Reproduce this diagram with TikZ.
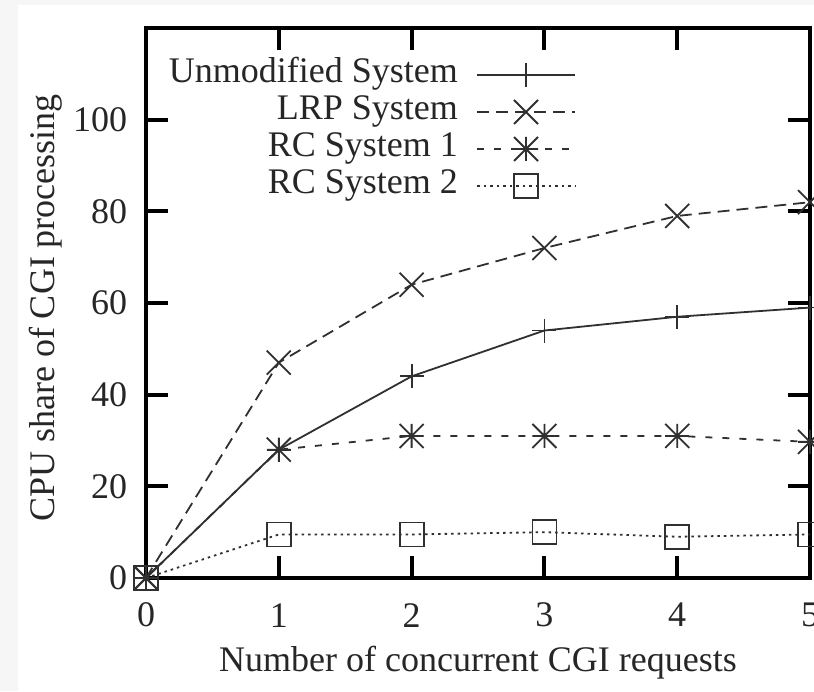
\documentclass[tikz,border=0pt]{standalone}
\usepackage{fontspec}
\setmainfont{Liberation Serif}
\usetikzlibrary{plotmarks}

% gnuplot-style point types
\pgfdeclareplotmark{gpplus}{%
  \pgfpathmoveto{\pgfqpoint{0pt}{\pgfplotmarksize}}%
  \pgfpathlineto{\pgfqpoint{0pt}{-\pgfplotmarksize}}%
  \pgfpathmoveto{\pgfqpoint{\pgfplotmarksize}{0pt}}%
  \pgfpathlineto{\pgfqpoint{-\pgfplotmarksize}{0pt}}%
  \pgfusepathqstroke}
\pgfdeclareplotmark{gpcross}{%
  \pgfpathmoveto{\pgfqpoint{\pgfplotmarksize}{\pgfplotmarksize}}%
  \pgfpathlineto{\pgfqpoint{-\pgfplotmarksize}{-\pgfplotmarksize}}%
  \pgfpathmoveto{\pgfqpoint{-\pgfplotmarksize}{\pgfplotmarksize}}%
  \pgfpathlineto{\pgfqpoint{\pgfplotmarksize}{-\pgfplotmarksize}}%
  \pgfusepathqstroke}
\pgfdeclareplotmark{gpstar}{%
  \pgfpathmoveto{\pgfqpoint{0pt}{\pgfplotmarksize}}%
  \pgfpathlineto{\pgfqpoint{0pt}{-\pgfplotmarksize}}%
  \pgfpathmoveto{\pgfqpoint{\pgfplotmarksize}{0pt}}%
  \pgfpathlineto{\pgfqpoint{-\pgfplotmarksize}{0pt}}%
  \pgfpathmoveto{\pgfqpoint{\pgfplotmarksize}{\pgfplotmarksize}}%
  \pgfpathlineto{\pgfqpoint{-\pgfplotmarksize}{-\pgfplotmarksize}}%
  \pgfpathmoveto{\pgfqpoint{-\pgfplotmarksize}{\pgfplotmarksize}}%
  \pgfpathlineto{\pgfqpoint{\pgfplotmarksize}{-\pgfplotmarksize}}%
  \pgfusepathqstroke}
\pgfdeclareplotmark{gpbox}{%
  \pgfpathrectangle{\pgfqpoint{-\pgfplotmarksize}{-\pgfplotmarksize}}%
    {\pgfqpoint{2\pgfplotmarksize}{2\pgfplotmarksize}}%
  \pgfusepathqstroke}

\definecolor{txt}{HTML}{262626}
\definecolor{ink}{HTML}{303030}
\definecolor{margin}{HTML}{F6F6F6}

\tikzset{
  lbl/.style={text=txt, font=\fontsize{36}{40}\selectfont, inner sep=0pt},
  frame/.style={line width=4pt, black},
  series/.style={ink, line width=1.8pt, mark size=12pt, mark options={solid}},
  unmod/.style={series, solid, mark=gpplus},
  lrp/.style={series, dash pattern=on 12pt off 7pt, mark=gpcross},
  rcone/.style={series, dash pattern=on 7pt off 10pt, mark=gpstar},
  rctwo/.style={series, dash pattern=on 2.5pt off 4pt, mark=gpbox},
}

\begin{document}
\begin{tikzpicture}[x=1pt, y=1pt]
  \useasboundingbox (0,0) rectangle (814,691);
  \fill[margin] (0,0) rectangle (814,691);
  \fill[white] (18,0) rectangle (814,686);

  % data area: x in requests, y in percent
  \begin{scope}[shift={(146,113)}, x=132.8pt, y=4.583pt]
    % frame and ticks
    \draw[frame] (0,0) rectangle (5,120);
    \foreach \v in {0,20,...,100} {
      \draw[frame] (0,\v) -- (0.166,\v);
      \draw[frame] (5,\v) -- (4.834,\v);
      \node[lbl, anchor=east] (yl\v) at (-0.14,\v) {\v};
    }
    \foreach \u in {0,...,5} {
      \draw[frame] (\u,0) -- (\u,4.8);
      \draw[frame] (\u,120) -- (\u,115.2);
      \node[lbl] (xl\u) at (\u,-8.1) {\u};
    }

    % series
    \draw[rctwo] plot coordinates {(0,0) (1,9.5) (2,9.5) (3,10) (4,9) (5,9.5)};
    \draw[rcone] plot coordinates {(0,0) (1,28) (2,31) (3,31) (4,31) (5,29.7)};
    \draw[unmod] plot coordinates {(0,0) (1,28) (2,44) (3,54) (4,57) (5,59)};
    \draw[lrp]   plot coordinates {(0,0) (1,47) (2,64) (3,72) (4,79) (5,82)};
  \end{scope}

  % legend
  \node[lbl, anchor=east] (k1) at (458,617) {Unmodified System};
  \node[lbl, anchor=east] (k2) at (458,580) {LRP System};
  \node[lbl, anchor=east] (k3) at (458,543) {RC System 1};
  \node[lbl, anchor=east] (k4) at (458,506) {RC System 2};
  \draw[unmod, mark=none] (477,616) -- (575,616);
  \draw[lrp, mark=none]   (477,579) -- (575,579);
  \draw[rcone, mark=none] (477,542) -- (575,542);
  \draw[rctwo, mark=none] (477,505) -- (575,505);
  \draw[series] plot[mark=gpplus]  coordinates {(526,616)};
  \draw[series] plot[mark=gpcross] coordinates {(526,579)};
  \draw[series] plot[mark=gpstar]  coordinates {(526,542)};
  \draw[series] plot[mark=gpbox]   coordinates {(526,505)};

  % axis titles
  \node[lbl, rotate=90] (ytitle) at (46,383) {CPU share of CGI processing};
  \node[lbl] (xtitle) at (478,28) {Number of concurrent CGI requests};
\end{tikzpicture}
\end{document}
